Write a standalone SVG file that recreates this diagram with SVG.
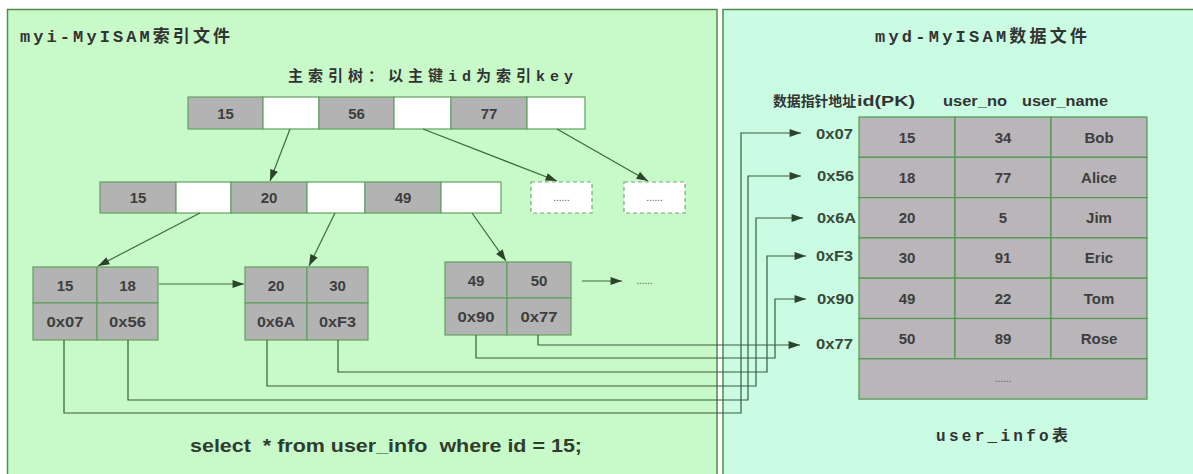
<svg xmlns="http://www.w3.org/2000/svg" width="1193" height="474" viewBox="0 0 1193 474">
<defs>
<style>
.panelL{fill:#c8f9c8;stroke:#4e8c4e;stroke-width:1.5}
.panelR{fill:#c9fce3;stroke:#4e8c4e;stroke-width:1.5}
.g{fill:#b3b3b3;stroke:#62a062;stroke-width:1.2}
.w{fill:#ffffff;stroke:#62a062;stroke-width:1.2}
.d{fill:#ffffff;stroke:#72a872;stroke-width:1.2;stroke-dasharray:4 3}
.t{fill:#b9b5b9;stroke:#4f9a4f;stroke-width:1.2}
.c{font-family:"Liberation Sans",Arial,sans-serif;font-weight:bold;font-size:15px;fill:#3e3e3e;text-anchor:middle}
.addr{font-family:"Liberation Sans",Arial,sans-serif;font-weight:bold;font-size:15px;fill:#3a4a3a;text-anchor:end}
.hd{font-family:"Liberation Sans","Noto Sans CJK SC",Arial,sans-serif;font-weight:bold;font-size:14px;fill:#333}
.mono{font-family:"Liberation Mono","Noto Sans CJK SC",monospace;font-weight:bold;fill:#333}
.dots{font-family:"Liberation Sans",Arial,sans-serif;font-size:10px;fill:#555;text-anchor:middle}
.ln{fill:none;stroke:#3d5a3d;stroke-width:1.2}
.tr{fill:none;stroke:#3f6a3f;stroke-width:1.2}
</style>
<marker id="ah" viewBox="0 0 10 7" refX="10" refY="3.5" markerWidth="12" markerHeight="8" markerUnits="userSpaceOnUse" orient="auto">
<path d="M0,0 L10,3.5 L0,7 z" fill="#2b442b"/>
</marker>
</defs>

<g id="panel-myi">
<rect class="panelL" x="7.5" y="9.5" width="709.5" height="475"/>
<text class="mono" x="20" y="42" font-size="17" textLength="210" lengthAdjust="spacing">myi-MyISAM索引文件</text>
<text class="mono" x="288" y="81" font-size="15" textLength="285" lengthAdjust="spacing">主索引树：以主键id为索引key</text>
<text x="190" y="452" font-family="'Liberation Sans',Arial,sans-serif" font-weight="bold" font-size="18" fill="#2f3d2f" textLength="392" lengthAdjust="spacingAndGlyphs" xml:space="preserve">select  * from user_info  where id = 15;</text>
</g>

<g id="panel-myd">
<rect class="panelR" x="723" y="9.5" width="480" height="475"/>
<text class="mono" x="875" y="42" font-size="17" textLength="212" lengthAdjust="spacing">myd-MyISAM数据文件</text>
<text class="mono" x="936" y="441" font-size="16" textLength="132" lengthAdjust="spacing">user_info表</text>
</g>

<g id="root-node">
<rect class="g" x="188" y="97" width="75" height="32"/>
<rect class="w" x="263" y="97" width="56" height="32"/>
<rect class="g" x="319" y="97" width="75" height="32"/>
<rect class="w" x="394" y="97" width="57" height="32"/>
<rect class="g" x="451" y="97" width="76" height="32"/>
<rect class="w" x="527" y="97" width="58" height="32"/>
<text class="c" x="225.5" y="118.5">15</text>
<text class="c" x="356.5" y="118.5">56</text>
<text class="c" x="489" y="118.5">77</text>
</g>

<g id="mid-node">
<rect class="g" x="100" y="182" width="76" height="31"/>
<rect class="w" x="176" y="182" width="55" height="31"/>
<rect class="g" x="231" y="182" width="76" height="31"/>
<rect class="w" x="307" y="182" width="58" height="31"/>
<rect class="g" x="365" y="182" width="76" height="31"/>
<rect class="w" x="441" y="182" width="60" height="31"/>
<text class="c" x="138" y="203">15</text>
<text class="c" x="269" y="203">20</text>
<text class="c" x="403" y="203">49</text>
</g>

<g id="dash-node-1">
<rect class="d" x="531" y="182" width="61" height="31"/>
<text class="dots" x="561.5" y="201">......</text>
</g>
<g id="dash-node-2">
<rect class="d" x="624" y="182" width="61" height="31"/>
<text class="dots" x="654.5" y="201">......</text>
</g>

<g id="leaf-1">
<rect class="g" x="33" y="267" width="64" height="36"/>
<rect class="g" x="97" y="267" width="61" height="36"/>
<rect class="g" x="33" y="303" width="64" height="37"/>
<rect class="g" x="97" y="303" width="61" height="37"/>
<text class="c" x="65" y="290.5">15</text>
<text class="c" x="127.5" y="290.5">18</text>
<text class="c" x="65" y="326.5" textLength="37" lengthAdjust="spacingAndGlyphs">0x07</text>
<text class="c" x="127.5" y="326.5" textLength="37" lengthAdjust="spacingAndGlyphs">0x56</text>
</g>

<g id="leaf-2">
<rect class="g" x="245" y="267" width="62" height="36"/>
<rect class="g" x="307" y="267" width="61" height="36"/>
<rect class="g" x="245" y="303" width="62" height="37"/>
<rect class="g" x="307" y="303" width="61" height="37"/>
<text class="c" x="276" y="290.5">20</text>
<text class="c" x="337.5" y="290.5">30</text>
<text class="c" x="276" y="326.5" textLength="38" lengthAdjust="spacingAndGlyphs">0x6A</text>
<text class="c" x="337.5" y="326.5" textLength="37" lengthAdjust="spacingAndGlyphs">0xF3</text>
</g>

<g id="leaf-3">
<rect class="g" x="445" y="262" width="62" height="36"/>
<rect class="g" x="507" y="262" width="64" height="36"/>
<rect class="g" x="445" y="298" width="62" height="37"/>
<rect class="g" x="507" y="298" width="64" height="37"/>
<text class="c" x="476" y="285.5">49</text>
<text class="c" x="539" y="285.5">50</text>
<text class="c" x="476" y="321.5" textLength="37" lengthAdjust="spacingAndGlyphs">0x90</text>
<text class="c" x="539" y="321.5" textLength="37" lengthAdjust="spacingAndGlyphs">0x77</text>
</g>

<g id="leaf-more">
<text class="dots" x="644.5" y="284">......</text>
</g>

<g id="user-info-table">
<rect class="t" x="859" y="117" width="96" height="40.3"/>
<rect class="t" x="955" y="117" width="96" height="40.3"/>
<rect class="t" x="1051" y="117" width="96" height="40.3"/>
<rect class="t" x="859" y="157.3" width="96" height="40.3"/>
<rect class="t" x="955" y="157.3" width="96" height="40.3"/>
<rect class="t" x="1051" y="157.3" width="96" height="40.3"/>
<rect class="t" x="859" y="197.6" width="96" height="40.3"/>
<rect class="t" x="955" y="197.6" width="96" height="40.3"/>
<rect class="t" x="1051" y="197.6" width="96" height="40.3"/>
<rect class="t" x="859" y="237.9" width="96" height="40.3"/>
<rect class="t" x="955" y="237.9" width="96" height="40.3"/>
<rect class="t" x="1051" y="237.9" width="96" height="40.3"/>
<rect class="t" x="859" y="278.2" width="96" height="40.3"/>
<rect class="t" x="955" y="278.2" width="96" height="40.3"/>
<rect class="t" x="1051" y="278.2" width="96" height="40.3"/>
<rect class="t" x="859" y="318.5" width="96" height="40.3"/>
<rect class="t" x="955" y="318.5" width="96" height="40.3"/>
<rect class="t" x="1051" y="318.5" width="96" height="40.3"/>
<rect class="t" x="859" y="358.8" width="288" height="40.3"/>
<text class="hd" x="773" y="106" textLength="83" lengthAdjust="spacingAndGlyphs">数据指针地址</text>
<text class="hd" x="857" y="106" textLength="58" lengthAdjust="spacingAndGlyphs">id(PK)</text>
<text class="hd" x="943" y="106" textLength="64" lengthAdjust="spacingAndGlyphs">user_no</text>
<text class="hd" x="1022" y="106" textLength="86" lengthAdjust="spacingAndGlyphs">user_name</text>
<g class="c">
<text x="907" y="142.5">15</text><text x="1003" y="142.5">34</text><text x="1099" y="142.5">Bob</text>
<text x="907" y="182.5">18</text><text x="1003" y="182.5">77</text><text x="1099" y="182.5">Alice</text>
<text x="907" y="223">20</text><text x="1003" y="223">5</text><text x="1099" y="223">Jim</text>
<text x="907" y="263">30</text><text x="1003" y="263">91</text><text x="1099" y="263">Eric</text>
<text x="907" y="303.5">49</text><text x="1003" y="303.5">22</text><text x="1099" y="303.5">Tom</text>
<text x="907" y="343.5">50</text><text x="1003" y="343.5">89</text><text x="1099" y="343.5">Rose</text>
</g>
<text class="dots" x="1003" y="382">......</text>
<text class="addr" x="853" y="139" textLength="37" lengthAdjust="spacingAndGlyphs">0x07</text>
<text class="addr" x="854" y="181" textLength="37" lengthAdjust="spacingAndGlyphs">0x56</text>
<text class="addr" x="856" y="223" textLength="39" lengthAdjust="spacingAndGlyphs">0x6A</text>
<text class="addr" x="853" y="261" textLength="37" lengthAdjust="spacingAndGlyphs">0xF3</text>
<text class="addr" x="854" y="304" textLength="37" lengthAdjust="spacingAndGlyphs">0x90</text>
<text class="addr" x="853" y="349" textLength="37" lengthAdjust="spacingAndGlyphs">0x77</text>
</g>

<g id="connectors">
<line class="tr" x1="290" y1="129" x2="270" y2="181" marker-end="url(#ah)"/>
<line class="tr" x1="423" y1="129" x2="557" y2="181" marker-end="url(#ah)"/>
<line class="tr" x1="557" y1="129" x2="648" y2="181" marker-end="url(#ah)"/>
<line class="tr" x1="200" y1="213" x2="98" y2="266" marker-end="url(#ah)"/>
<line class="tr" x1="335" y1="213" x2="309" y2="266" marker-end="url(#ah)"/>
<line class="tr" x1="472" y1="213" x2="506" y2="261" marker-end="url(#ah)"/>
<line class="tr" x1="159" y1="284" x2="244" y2="284" marker-end="url(#ah)"/>
<line class="tr" x1="582" y1="281" x2="622" y2="281" marker-end="url(#ah)"/>
<path class="ln" d="M64,340 V413 H741 V133 H801" marker-end="url(#ah)"/>
<path class="ln" d="M128,340 V400 H748 V176 H801" marker-end="url(#ah)"/>
<path class="ln" d="M267,340 V386 H756 V218 H803" marker-end="url(#ah)"/>
<path class="ln" d="M338,340 V372 H767 V256 H806" marker-end="url(#ah)"/>
<path class="ln" d="M476,335 V358 H775 V299 H806" marker-end="url(#ah)"/>
<path class="ln" d="M538,335 V345 H800" marker-end="url(#ah)"/>
</g>
</svg>
